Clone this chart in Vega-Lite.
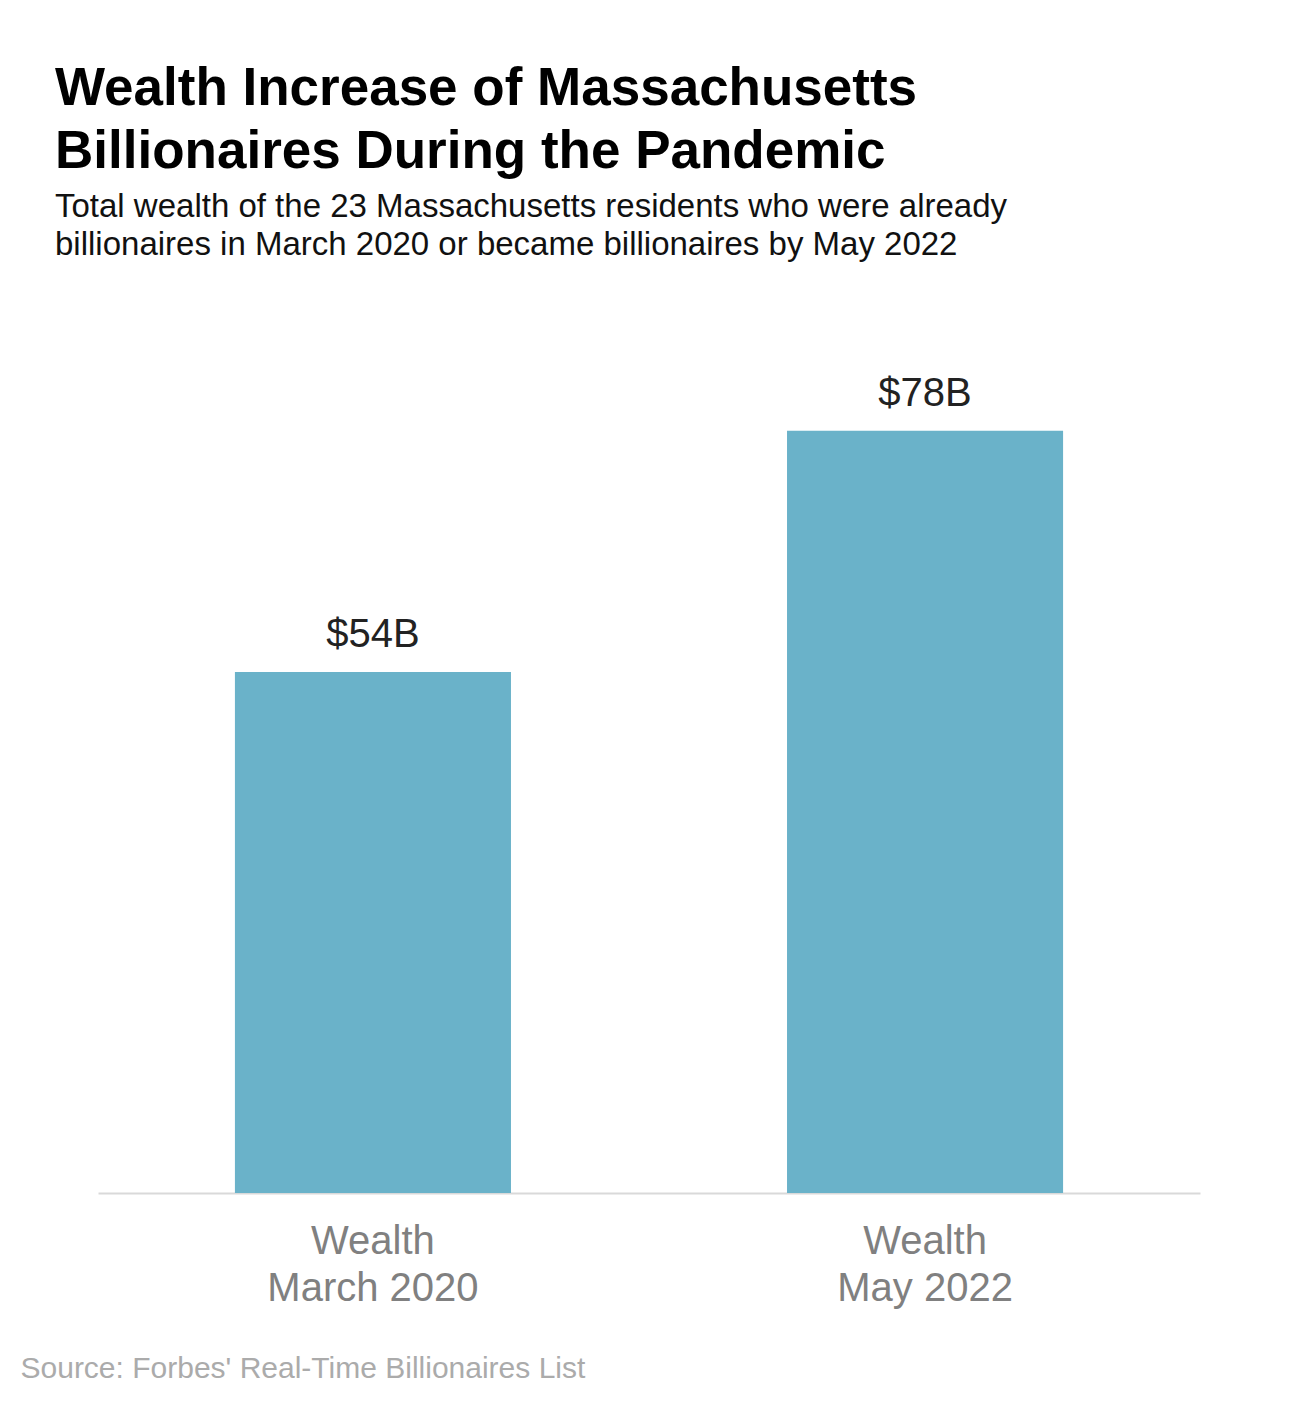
{
  "$schema": "https://vega.github.io/schema/vega-lite/v6.json",
  "autosize": {"type": "none"},
  "padding": {"left": 98, "top": 318, "right": 108, "bottom": 209},
  "width": 1102,
  "height": 875,
  "background": "white",
  "config": {
    "view": {"stroke": null},
    "font": "Liberation Sans"
  },
  "title": {
    "text": ["Wealth Increase of Massachusetts", "Billionaires During the Pandemic"],
    "subtitle": ["Total wealth of the 23 Massachusetts residents who were already", "billionaires in March 2020 or became billionaires by May 2022"],
    "anchor": "start",
    "frame": "group",
    "dx": -43,
    "offset": 56,
    "font": "Liberation Sans",
    "fontSize": 53,
    "fontWeight": "bold",
    "lineHeight": 63,
    "color": "#000000",
    "subtitleFont": "Liberation Sans",
    "subtitleFontSize": 33,
    "subtitleLineHeight": 38,
    "subtitleColor": "#111111",
    "subtitlePadding": 12
  },
  "data": {
    "values": [
      {"period": "March 2020", "wealth": 53.6, "label": "$54B"},
      {"period": "May 2022", "wealth": 78.4, "label": "$78B"}
    ]
  },
  "encoding": {
    "x": {
      "field": "period",
      "type": "nominal",
      "sort": null,
      "scale": {"paddingInner": 0.5, "paddingOuter": 0.248},
      "axis": {
        "title": "Source: Forbes' Real-Time Billionaires List",
        "titleFont": "Liberation Sans",
        "titleFontSize": 30,
        "titleFontWeight": "normal",
        "titleColor": "#ababab",
        "titleAnchor": "start",
        "titleAlign": "left",
        "titleX": -78,
        "titleY": 184,
        "titleBaseline": "alphabetic",
        "labelExpr": "['Wealth', datum.label]",
        "labelFont": "Liberation Sans",
        "labelFontSize": 40,
        "labelLineHeight": 47,
        "labelLimit": 0,
        "labelColor": "#808080",
        "labelPadding": 28,
        "labelAngle": 0,
        "ticks": false,
        "domainColor": "#d9d9d9",
        "domainWidth": 2,
        "grid": false
      }
    },
    "y": {
      "field": "wealth",
      "type": "quantitative",
      "scale": {"domain": [0, 90]},
      "axis": null
    }
  },
  "layer": [
    {"mark": {"type": "bar", "color": "#6AB2C9"}},
    {
      "mark": {"type": "text", "fontSize": 40, "color": "#222222", "baseline": "alphabetic", "dy": -25, "font": "Liberation Sans"},
      "encoding": {"text": {"field": "label"}}
    }
  ]
}
